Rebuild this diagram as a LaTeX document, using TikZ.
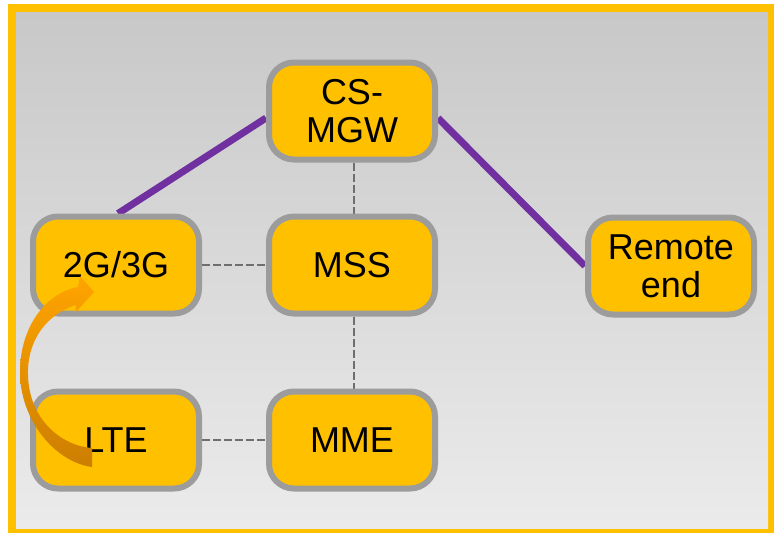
\documentclass[tikz,border=0pt]{standalone}
\usepackage{fontspec}
\setmainfont{Liberation Sans}
\usetikzlibrary{backgrounds,calc}
\definecolor{nodefill}{HTML}{FFC000}
\definecolor{nodeedge}{HTML}{9C9C9C}
\definecolor{linkpurple}{HTML}{7030A0}
\definecolor{dashgray}{HTML}{6E6E6E}
\definecolor{frameyellow}{HTML}{FFC000}
\definecolor{bgtop}{HTML}{C8C8C8}
\definecolor{bgbottom}{HTML}{EBEBEB}
\definecolor{arrowtop}{HTML}{FFA400}
\definecolor{arrowbottom}{HTML}{CC7E00}
\begin{document}
\begin{tikzpicture}[x=1pt,y=1pt,
  netnode/.style={draw=nodeedge, line width=6pt, fill=nodefill, rounded corners=25pt,
    minimum width=166pt, minimum height=97pt, align=center, inner sep=0pt,
    font=\fontsize{36}{38}\selectfont},
  link/.style={draw=linkpurple, line width=7pt},
  dashlink/.style={draw=dashgray, line width=2.2pt, dash pattern=on 8pt off 3pt}]
\useasboundingbox (0,0) rectangle (774,-533);
\begin{pgfonlayer}{background}
  \fill[white] (0,0) rectangle (774,-533);
  \fill[frameyellow] (8,-4) rectangle (774,-533);
  \shade[top color=bgtop, bottom color=bgbottom] (16,-12) rectangle (768,-528);
\end{pgfonlayer}

\node[netnode] (cs)  at (352,-111) {CS-\\MGW};
\node[netnode] (g23) at (116,-265) {2G/3G};
\node[netnode] (mss) at (352,-265) {MSS};
\node[netnode] (lte) at (116,-440) {LTE};
\node[netnode] (mme) at (352,-440) {MME};
\node[netnode] (rem) at (671,-266) {Remote\\end};

\begin{pgfonlayer}{background}
  \draw[link] ($(g23.north)+(2,0)$) -- ($(cs.west)+(0,-7)$);
  \draw[link] ($(cs.east)+(0,-7)$) -- (rem.west);
  \draw[dashlink] (g23.east) -- (mss.west);
  \draw[dashlink] (lte.east) -- (mme.west);
  \draw[dashlink] ($(cs.south)+(2,0)$) -- ($(mss.north)+(2,0)$);
  \draw[dashlink] ($(mss.south)+(2,0)$) -- ($(mme.north)+(2,0)$);
\end{pgfonlayer}

\shade[top color=arrowtop, bottom color=arrowbottom]
  (92,-448) .. controls (62,-446) and (29,-420) .. (28,-375)
  .. controls (27,-340) and (47,-314) .. (76,-305)
  -- (75,-313) -- (94,-292) -- (80,-276) -- (78,-287)
  .. controls (45,-293) and (20,-328) .. (20,-372)
  .. controls (20,-420) and (55,-462) .. (92,-467) -- cycle;
\end{tikzpicture}
\end{document}
